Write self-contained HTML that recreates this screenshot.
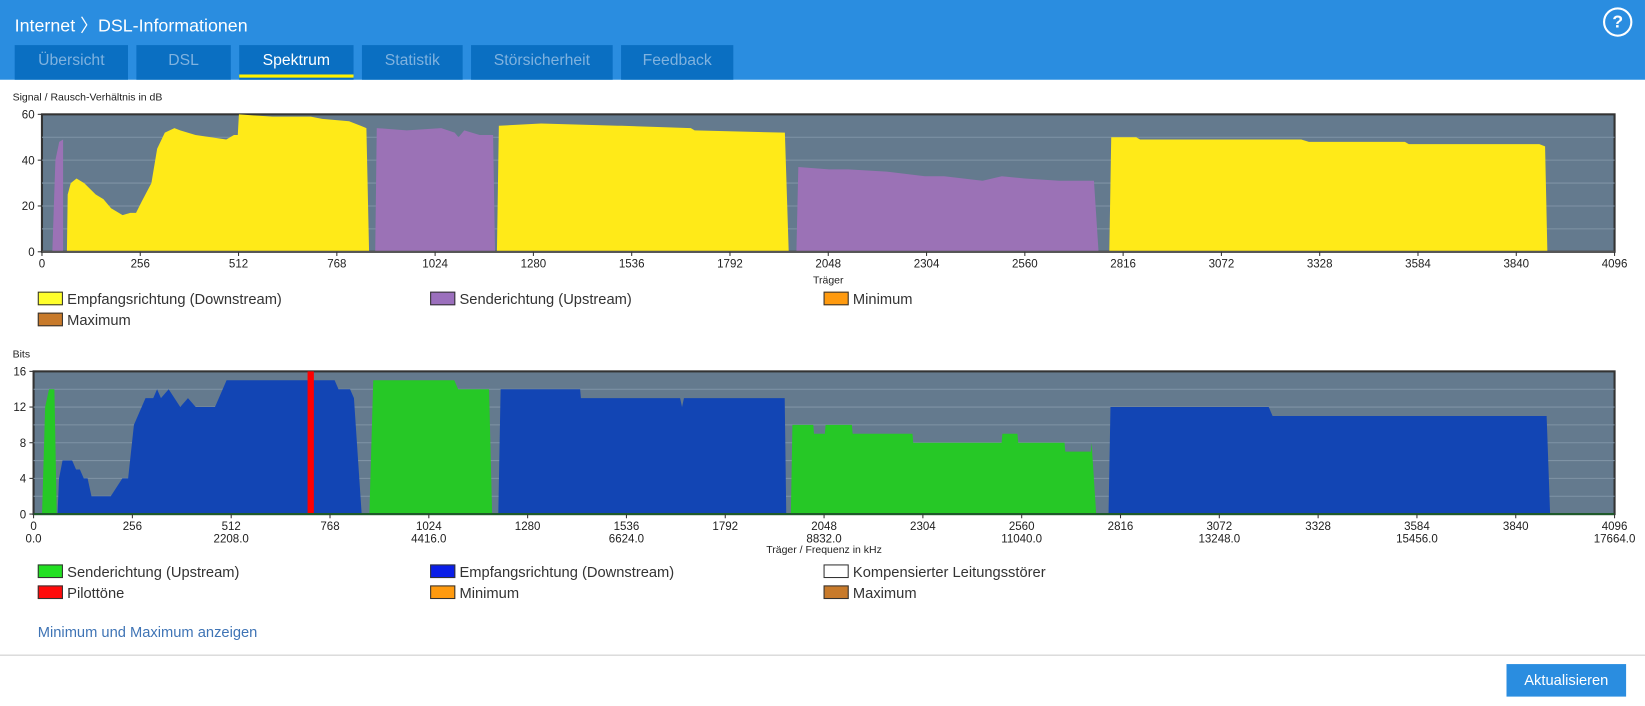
<!DOCTYPE html>
<html><head><meta charset="utf-8">
<style>
body{margin:0;width:1645px;height:706px;overflow:hidden;background:#fff;font-family:"Liberation Sans",sans-serif;position:relative}
#wrap{position:absolute;left:0;top:0;width:1568px;height:673px;transform:scale(1.0491);transform-origin:0 0}
#hdr{position:absolute;left:0;top:0;width:1568px;height:76px;background:#2a8de0}
#title{position:absolute;left:14px;top:10px;color:#fff;font-size:17px}
.tab{position:absolute;top:43px;height:33px;background:#0a6fc2;color:#7fb2df;font-size:15px;text-align:center;line-height:30px}
.tab.act{color:#fff}
#help{position:absolute;left:1528px;top:7px;width:24px;height:24px;border:2px solid #fff;border-radius:50%;color:#fff;font-weight:bold;font-size:17px;text-align:center;line-height:24px}
.leg{position:absolute;font-size:14px;color:#333;height:18px;line-height:18px}
.sw{display:inline-block;width:22px;height:11px;border:1px solid #333;vertical-align:-1px;margin-right:4px}
#link{position:absolute;left:36px;top:594px;color:#3f74b5;font-size:14px}
#sep{position:absolute;left:0;top:624px;width:1568px;height:1px;background:#ccc}
#btn{position:absolute;left:1436px;top:633px;width:114px;height:31px;background:#2a8de0;color:#fff;font-size:14px;text-align:center;line-height:31px}
svg{position:absolute;left:0;top:0}
</style></head><body>
<div id="wrap">
<div id="hdr"></div>
<div id="title">Internet 〉DSL-Informationen</div>
<div id="help">?</div>
<div class="tab" style="left:14px;width:108px">Übersicht</div>
<div class="tab" style="left:130px;width:90px">DSL</div>
<div class="tab act" style="left:228px;width:109px">Spektrum<div style="position:absolute;left:0;right:0;bottom:2px;height:3px;background:#fff200"></div></div>
<div class="tab" style="left:345px;width:96px">Statistik</div>
<div class="tab" style="left:449px;width:135px">Störsicherheit</div>
<div class="tab" style="left:592px;width:107px">Feedback</div>

<svg id="chart" width="1568" height="673"></svg>

<div class="leg" style="left:36px;top:276px"><span class="sw" style="background:#ffff2a"></span>Empfangsrichtung (Downstream)</div>
<div class="leg" style="left:410px;top:276px"><span class="sw" style="background:#9b6fbd"></span>Senderichtung (Upstream)</div>
<div class="leg" style="left:785px;top:276px"><span class="sw" style="background:#ff9a0e"></span>Minimum</div>
<div class="leg" style="left:36px;top:296px"><span class="sw" style="background:#c87a2a"></span>Maximum</div>

<div class="leg" style="left:36px;top:536px"><span class="sw" style="background:#22e022"></span>Senderichtung (Upstream)</div>
<div class="leg" style="left:410px;top:536px"><span class="sw" style="background:#0a1ee8"></span>Empfangsrichtung (Downstream)</div>
<div class="leg" style="left:785px;top:536px"><span class="sw" style="background:#fff"></span>Kompensierter Leitungsstörer</div>
<div class="leg" style="left:36px;top:556px"><span class="sw" style="background:#ff0a0a"></span>Pilottöne</div>
<div class="leg" style="left:410px;top:556px"><span class="sw" style="background:#ff9a0e"></span>Minimum</div>
<div class="leg" style="left:785px;top:556px"><span class="sw" style="background:#c87a2a"></span>Maximum</div>

<div id="link">Minimum und Maximum anzeigen</div>
<div id="sep"></div>
<div id="btn">Aktualisieren</div>
</div>

<script>
// SNR chart data (carrier, dB)
const snrUp1C=[27,35,45,55];const snrUp1V=[0,40,48,49];
const snrDs1C=[65,67,75,90,110,140,160,180,210,230,245,260,285,300,320,345,360,400,440,480,500,510,513,600,700,730,800,830,845,852];
const snrDs1V=[0,25,30,32,30,25,23,19,16,17,17,22,30,45,52,54,53,51,50,49,51,51,60,59,59,58,57,55,54,0];
const snrUp2C=[868,872,950,1040,1075,1085,1100,1140,1175,1180];
const snrUp2V=[0,54,53,54,52,50,53,51,51,0];
const snrDs2C=[1185,1190,1300,1500,1510,1690,1700,1935,1945];
const snrDs2V=[0,55,56,55,55,54,53,52,0];
const snrUp3C=[1965,1970,2050,2100,2200,2300,2350,2450,2500,2560,2650,2740,2752];
const snrUp3V=[0,37,36,36,35,33,33,31,33,32,31,31,0];
const snrDs3C=[2780,2785,2850,2860,3280,3300,3550,3560,3900,3915,3921];
const snrDs3V=[0,50,50,49,49,48,48,47,47,46,0];
const snrTicks=[0,20,40,60];
// Bits chart data (carrier, bits)
const bitUp1C=[22,30,40,54,60];const bitUp1V=[0,12,14,14,0];
const bitDs1C=[62,66,75,100,110,120,130,140,150,200,230,245,260,290,310,320,330,350,380,400,420,470,480,500,780,790,820,830,850];
const bitDs1V=[0,4,6,6,5,5,4,4,2,2,4,4,10,13,13,14,13,14,12,13,12,12,13,15,15,14,14,13,0];
const bitUp2C=[870,880,1090,1100,1180,1188];const bitUp2V=[0,15,15,14,14,0];
const bitDs2C=[1204,1210,1416,1418,1675,1680,1685,1946,1950];const bitDs2V=[0,14,14,13,13,12,13,13,0];
const bitUp3C=[1962,1966,2020,2022,2050,2052,2120,2122,2277,2279,2508,2510,2549,2551,2671,2673,2739,2741,2753];
const bitUp3V=[0,10,10,9,9,10,10,9,9,8,8,9,9,8,8,7,7,8,0];
const bitDs3C=[2785,2790,3200,3210,3920,3929];const bitDs3V=[0,12,12,11,11,0];
const pilotCarrier=[718];
const bitTicks=[0,4,8,12,16];
const xTicks=[0,256,512,768,1024,1280,1536,1792,2048,2304,2560,2816,3072,3328,3584,3840,4096];
const freqLabels=["0.0","2208.0","4416.0","6624.0","8832.0","11040.0","13248.0","15456.0","17664.0"];

const svg=document.getElementById('chart');
const NS='http://www.w3.org/2000/svg';
function mk(t,a,p){const e=document.createElementNS(NS,t);for(const k in a)e.setAttribute(k,a[k]);(p||svg).appendChild(e);return e;}

function chart(o){
  const sx=c=>o.x0+(o.x1-o.x0)*c/4096;
  const sy=v=>o.y1-(o.y1-o.y0)*v/o.max;
  const bg=mk('rect',{x:o.x0,y:o.y0,width:o.x1-o.x0,height:o.y1-o.y0,fill:'#647a8e',stroke:'#333','stroke-width':2});
  
  
  for(let v=o.minor;v<o.max;v+=o.minor){mk('line',{x1:o.x0,x2:o.x1,y1:sy(v),y2:sy(v),stroke:'#7f93a5','stroke-width':1});}
  o.series.forEach(s=>{
    let d='M'+sx(s.c[0])+','+sy(0);
    s.c.forEach((c,i)=>{d+='L'+sx(c)+','+sy(s.v[i]);});
    d+='L'+sx(s.c[s.c.length-1])+','+sy(0)+'Z';
    const p=mk('path',{d:d,fill:s.col});
    
    
  });
  (o.pilots||[]).forEach(c=>{
    const r=mk('rect',{x:sx(c)-3,y:o.y0,width:6,height:o.y1-o.y0,fill:'#ff0000'});
    
    
  });
  mk('line',{x1:o.x0,x2:o.x1,y1:o.y1,y2:o.y1,stroke:o.axisCol,'stroke-width':2});
  o.yt.forEach(v=>{
    mk('line',{x1:o.x0-4,x2:o.x0,y1:sy(v),y2:sy(v),stroke:'#333'});
    const t=mk('text',{x:o.x0-7,y:sy(v)+4,'font-size':11,'text-anchor':'end',fill:'#222'});t.textContent=v;
    
    
  });
  xTicks.forEach((c,i)=>{
    mk('line',{x1:sx(c),x2:sx(c),y1:o.y1,y2:o.y1+4,stroke:'#333'});
    const t=mk('text',{x:sx(c),y:o.y1+15,'font-size':11,'text-anchor':'middle',fill:'#222'});t.textContent=c;
    
    
    if(o.freq&&i%2==0){const f=mk('text',{x:sx(c),y:o.y1+27,'font-size':11,'text-anchor':'middle',fill:'#222'});f.textContent=freqLabels[i/2];
      
      }
  });
  const yt=mk('text',{x:o.ytx,y:o.y0-13,'font-size':10,fill:'#222'});yt.textContent=o.ytitle;
  
  
  const xt=mk('text',{x:(o.x0+o.x1)/2,y:o.xty,'font-size':10,'text-anchor':'middle',fill:'#222'});xt.textContent=o.xtitle;
  
  
}
const Y='#ffea18',P='#9b72b6',G='#26c826',B='#1245b4';
chart({name:'snr',x0:40,x1:1539,y0:109,y1:240,max:60,minor:10,yt:snrTicks,axisCol:'#555',ytitle:'Signal / Rausch-Verhältnis in dB',ytx:12,xtitle:'Träger',xty:270,
  series:[{c:snrUp1C,v:snrUp1V,col:P,name:'snr-upstream-1'},{c:snrDs1C,v:snrDs1V,col:Y,name:'snr-downstream-1'},{c:snrUp2C,v:snrUp2V,col:P,name:'snr-upstream-2'},{c:snrDs2C,v:snrDs2V,col:Y,name:'snr-downstream-2'},{c:snrUp3C,v:snrUp3V,col:P,name:'snr-upstream-3'},{c:snrDs3C,v:snrDs3V,col:Y,name:'snr-downstream-3'}]});
chart({name:'bits',x0:32,x1:1539,y0:354,y1:490,max:16,minor:2,yt:bitTicks,axisCol:'#1f5a2a',ytitle:'Bits',ytx:12,xtitle:'Träger / Frequenz in kHz',xty:527,freq:true,pilots:pilotCarrier,
  series:[{c:bitUp1C,v:bitUp1V,col:G,name:'bits-upstream-1'},{c:bitDs1C,v:bitDs1V,col:B,name:'bits-downstream-1'},{c:bitUp2C,v:bitUp2V,col:G,name:'bits-upstream-2'},{c:bitDs2C,v:bitDs2V,col:B,name:'bits-downstream-2'},{c:bitUp3C,v:bitUp3V,col:G,name:'bits-upstream-3'},{c:bitDs3C,v:bitDs3V,col:B,name:'bits-downstream-3'}]});
</script>
</body></html>
